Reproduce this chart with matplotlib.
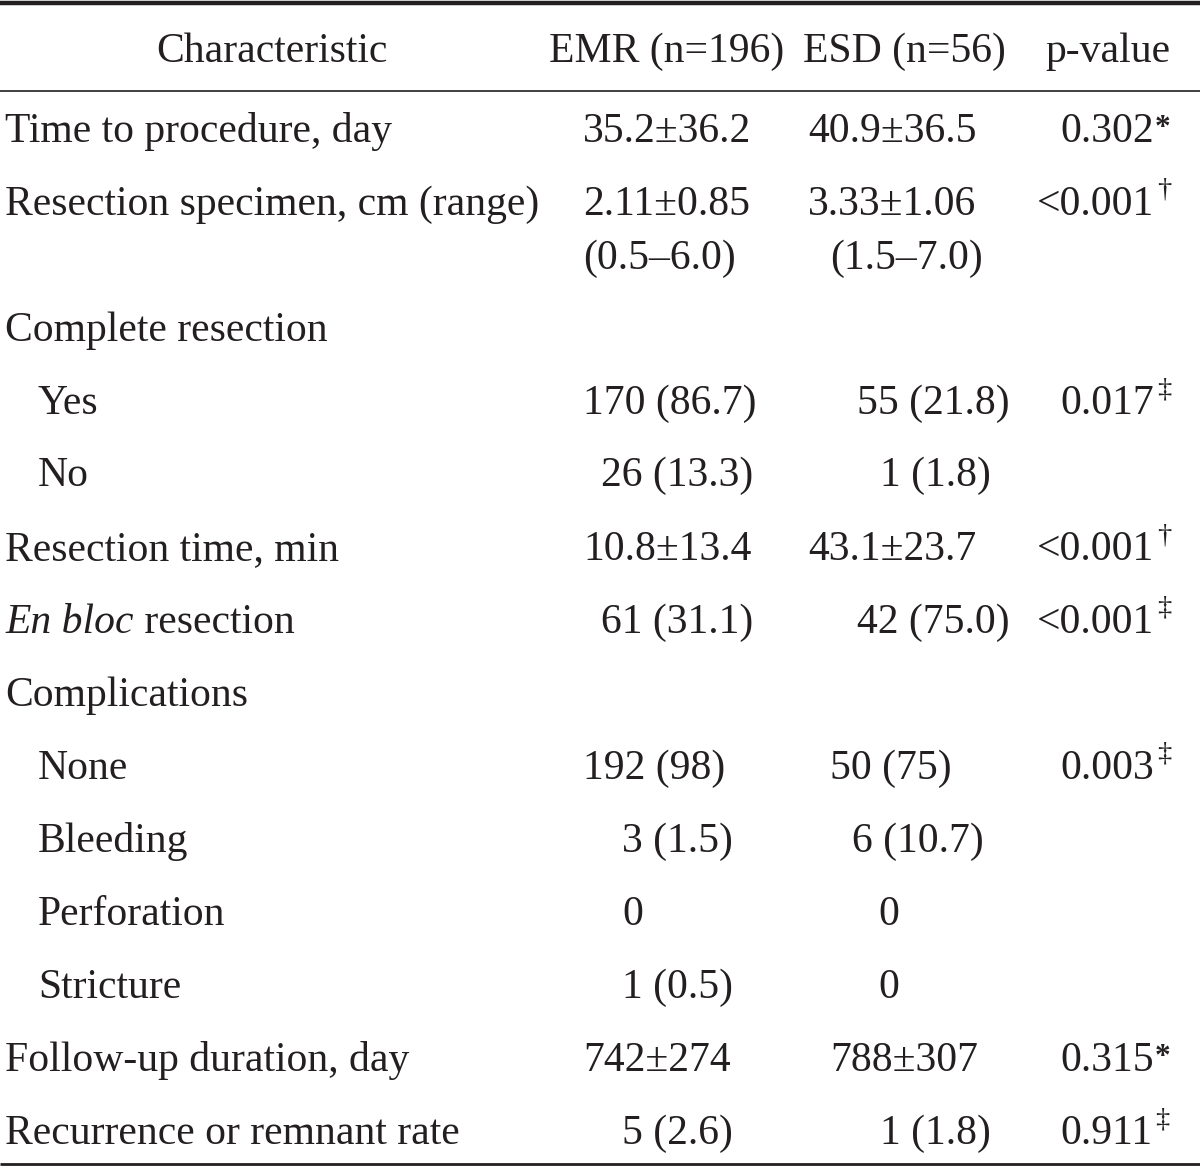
import matplotlib
matplotlib.use("Agg")
import matplotlib.pyplot as plt

# ---- data ----
header = ["Characteristic", "EMR (n=196)", "ESD (n=56)", "p-value"]
labels = ["Time to procedure, day", "Resection specimen, cm (range)", "",
          "Complete resection", "Yes", "No", "Resection time, min",
          "En bloc resection", "Complications", "None", "Bleeding",
          "Perforation", "Stricture", "Follow-up duration, day",
          "Recurrence or remnant rate"]
indent = [0, 0, 0, 0, 1, 1, 0, 0, 0, 1, 1, 1, 1, 0, 0]
emr = ["35.2\u00b136.2", "2.11\u00b10.85", "(0.5\u20136.0)", "", "170 (86.7)", "26 (13.3)",
       "10.8\u00b113.4", "61 (31.1)", "", "192 (98)", "3 (1.5)", "0", "1 (0.5)",
       "742\u00b1274", "5 (2.6)"]
esd = ["40.9\u00b136.5", "3.33\u00b11.06", "(1.5\u20137.0)", "", "55 (21.8)", "1 (1.8)",
       "43.1\u00b123.7", "42 (75.0)", "", "50 (75)", "6 (10.7)", "0", "0",
       "788\u00b1307", "1 (1.8)"]
pval = ["0.302", "<0.001", "", "", "0.017", "", "<0.001", "<0.001", "", "0.003",
        "", "", "", "0.315", "0.911"]
pmark = ["*", "\u2020", "", "", "\u2021", "", "\u2020", "\u2021", "", "\u2021",
         "", "", "", "*", "\u2021"]

# ---- layout (pixels) ----
W, H = 1200, 1167
baselines = [142, 215, 269, 341, 414, 486, 560, 633, 706, 779, 852, 925, 998, 1071, 1144]
emr_x = [583, 583, 583, 0, 583, 601, 583, 601, 0, 583, 622, 622, 622, 583, 622]
esd_x = [808, 808, 830, 0, 857, 880, 808, 857, 0, 830, 852, 878, 878, 830, 880]
p_x = [1060, 1037, 0, 0, 1060, 0, 1037, 1037, 0, 1060, 0, 0, 0, 1060, 1060]

FS = 30
FAM = ["Liberation Serif", "DejaVu Serif"]
col = "#231f20"

fig = plt.figure(figsize=(W / 100, H / 100), dpi=100)
ax = fig.add_axes([0, 0, 1, 1])
ax.set_xlim(0, W)
ax.set_ylim(H, 0)
ax.axis("off")
fig.canvas.draw()
renderer = fig.canvas.get_renderer()


def width_px(t):
    bb = t.get_window_extent(renderer=renderer)
    return bb.width


def put(x, y, s, style="normal", size=FS, **kw):
    t = ax.text(x, y, s, fontsize=size, family=FAM, style=style, color=col,
                va="baseline", ha="left", **kw)
    return t


# rules
ax.plot([0, W], [2.5, 2.5], color=col, lw=3.2, solid_capstyle="butt")
ax.plot([0, W], [91, 91], color=col, lw=1.2, solid_capstyle="butt")
ax.plot([0, W], [1164, 1164], color=col, lw=2.0, solid_capstyle="butt")

# header
hb = 62
ax.text(272, hb, header[0], fontsize=FS, family=FAM, color=col, va="baseline", ha="center")
ax.text(667, hb, header[1], fontsize=FS, family=FAM, color=col, va="baseline", ha="center")
ax.text(904, hb, header[2], fontsize=FS, family=FAM, color=col, va="baseline", ha="center")
ax.text(1108, hb, header[3], fontsize=FS, family=FAM, color=col, va="baseline", ha="center")

for i, lab in enumerate(labels):
    y = baselines[i]
    x0 = 5 + 33 * indent[i]
    if lab.startswith("En bloc"):
        t = put(x0, y, "En bloc", style="italic")
        w = width_px(t)
        put(x0 + w, y, " resection")
    elif lab:
        put(x0, y, lab)
    if emr[i]:
        put(emr_x[i], y, emr[i])
    if esd[i]:
        put(esd_x[i], y, esd[i])
    if pval[i]:
        t = put(p_x[i], y, pval[i])
        w = width_px(t)
        if pmark[i] == "*":
            put(p_x[i] + w + 1, y - 6, pmark[i], size=FS * 0.75, weight="bold")
        else:
            put(p_x[i] + w + 3, y - 18, pmark[i], size=FS * 0.68)

fig.savefig("out.png", dpi=100)
